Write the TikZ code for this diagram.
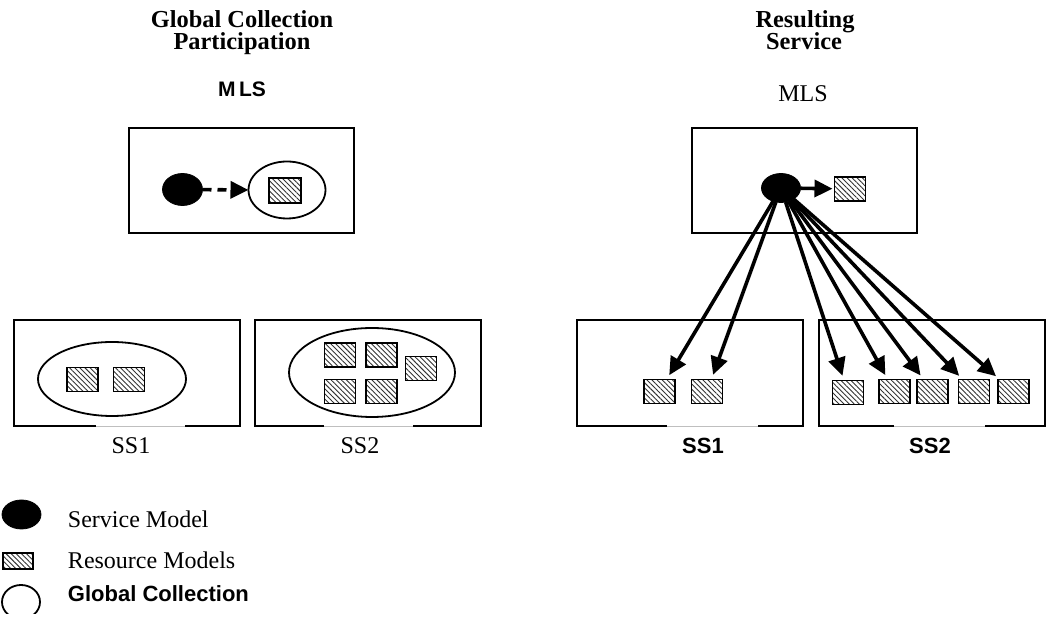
\documentclass[tikz,border=0pt]{standalone}
\usepackage{fontspec}
\setmainfont{Liberation Serif}
\setsansfont{Liberation Sans}
\usetikzlibrary{shapes.geometric,patterns.meta,arrows.meta}
\begin{document}
\begin{tikzpicture}[x=0.5pt,y=-0.5pt,
  every node/.style={inner sep=0pt,outer sep=0pt},
  txt/.style={font=\fontsize{12}{13}\selectfont,anchor=base},
  ttl/.style={font=\fontsize{12.2}{13}\selectfont\bfseries,anchor=base},
  sans/.style={font=\fontsize{11}{12}\selectfont\sffamily\bfseries,anchor=base},
  frame/.style={line width=0.75pt},
  gapline/.style={line width=0.4pt,draw=black!25},
  res/.style={draw,line width=0.9pt,rectangle,minimum width=15.5pt,minimum height=12pt,
    pattern={Lines[angle=-45,distance=1.8pt,line width=0.45pt]},pattern color=black!80},
  svc/.style={ellipse,fill=black,draw,minimum width=19.5pt,minimum height=15pt},
  coll/.style={draw,line width=0.9pt},
  arr/.style={line width=1.8pt,-{Triangle[length=9pt,width=8.5pt]}},
  darr/.style={arr,dash pattern=on 4.5pt off 3pt}]
\useasboundingbox (0,0) rectangle (1046,624);

% ---------- left half: global collection participation ----------
\node[ttl] (tl1) at (242,28) {Global Collection};
\node[ttl] (tl2) at (242,50) {Participation};
\node[sans,font=\fontsize{10.5}{12}\selectfont\sffamily\bfseries] (mlsL) at (242,97) {M\,LS};

\draw[frame] (129,128) rectangle (354,233);
\node[svc,minimum width=20pt,minimum height=16pt] (svcL) at (182.5,189.5) {};
\draw[coll] (287,190) ellipse [x radius=38.5, y radius=28.5];
\node[res,minimum width=16pt,minimum height=12.5pt] (mL) at (285,190.5) {};
\coordinate (collL) at (248.5,190);
\draw[darr] (svcL) -- (collL);

% SS1 (left)
\draw[frame] (96,426) -- (14,426) -- (14,320) -- (240,320) -- (240,426) -- (185,426);
\draw[gapline] (96,426) -- (185,426);
\draw[coll] (112,379) ellipse [x radius=74, y radius=37];
\node[res] (a1) at (82.5,379.5) {};
\node[res] (a2) at (129,379.5) {};
\node[txt] (ss1L) at (131,454) {SS1};

% SS2 (left)
\draw[frame] (324,426) -- (255,426) -- (255,320) -- (481,320) -- (481,426) -- (413,426);
\draw[gapline] (324,426) -- (413,426);
\draw[coll] (372,372.5) ellipse [x radius=83, y radius=44.5];
\node[res] (b1) at (340,355) {};
\node[res] (b2) at (381.5,355) {};
\node[res] (b3) at (421,368.5) {};
\node[res] (b4) at (340,391.5) {};
\node[res] (b5) at (381.5,391.5) {};
\node[txt] (ss2L) at (360,454) {SS2};

% ---------- right half: resulting service ----------
\node[ttl] (tr1) at (805,28) {Resulting};
\node[ttl] (tr2) at (804,50) {Service};
\node[txt] (mlsR) at (803,102) {MLS};

\draw[frame] (692,128) rectangle (917,233);
\node[svc,minimum width=19.5pt,minimum height=14.5pt] (svcR) at (781,188) {};
\node[res] (mR) at (850,189) {};

% SS1 (right)
\draw[frame] (667,426) -- (577,426) -- (577,320) -- (803,320) -- (803,426) -- (758,426);
\draw[gapline] (667,426) -- (758,426);
\node[res] (c1) at (659.5,391.5) {};
\node[res] (c2) at (707,391.5) {};
\node[sans] (ss1R) at (703,454) {SS1};

% SS2 (right)
\draw[frame] (894,426) -- (819,426) -- (819,320) -- (1045,320) -- (1045,426) -- (985,426);
\draw[gapline] (894,426) -- (985,426);
\node[res] (d1) at (848,392.5) {};
\node[res] (d2) at (894.5,391.5) {};
\node[res] (d3) at (932.5,391.5) {};
\node[res] (d4) at (974,391.5) {};
\node[res] (d5) at (1013.5,391.5) {};
\node[sans] (ss2R) at (930,454) {SS2};

\draw[arr,shorten >=1pt] (svcR) -- (mR);
\foreach \t in {c1,c2,d1,d2,d3,d4,d5}
  \draw[arr,shorten >=2.5pt] (svcR) -- (\t);

% ---------- legend ----------
\node[svc,minimum width=19.5pt,minimum height=14.5pt] (lgS) at (21.5,514.5) {};
\node[txt,anchor=base west] (lgS-t) at (68,528) {Service Model};
\node[res,minimum width=15pt,minimum height=8pt] (lgR) at (18,561) {};
\node[txt,anchor=base west] (lgR-t) at (68,569) {Resource Models};
\begin{scope}
  \clip (0,580) rectangle (60,614);
  \draw[coll] (21,602) ellipse [x radius=19, y radius=17];
\end{scope}
\node[sans,anchor=base west] (lgC-t) at (68,602) {Global Collection};
\end{tikzpicture}
\end{document}
